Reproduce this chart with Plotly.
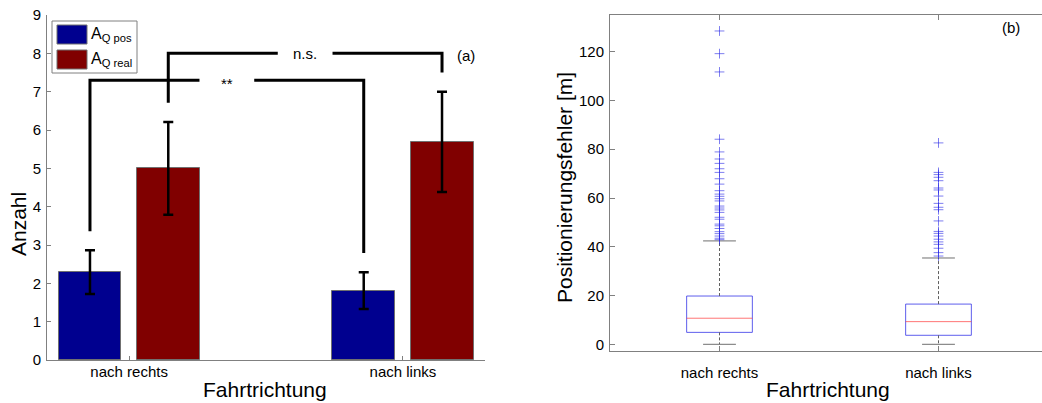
import plotly.graph_objects as go

# ---------------- data: panel (a) ----------------
categories = ["nach rechts", "nach links"]
a_q_pos = [2.29, 1.81]
a_q_pos_err = [0.57, 0.48]
a_q_real = [5.0, 5.69]
a_q_real_err = [1.21, 1.31]

sig_labels = ["**", "n.s."]
sig_levels = [7.3, 8.0]

# ---------------- data: panel (b) ----------------
box_q1 = [4.9, 3.7]
box_median = [10.7, 9.3]
box_q3 = [19.8, 16.5]
whisker_low = [0.0, 0.0]
whisker_high = [42.4, 35.4]
outliers_rechts = [128.5, 119.2, 111.7, 84.1, 78.9, 76.0, 74.2, 72.0, 70.5, 67.9,
                   65.7, 63.0, 61.6, 60.7, 59.7, 58.8, 56.7, 55.9, 55.1, 54.1,
                   52.1, 51.3, 49.3, 48.6, 47.5, 46.2, 45.4, 44.4, 43.5, 42.9]
outliers_links = [82.6, 70.5, 69.6, 68.5, 67.1, 64.1, 63.3, 60.8, 57.8, 56.2,
                  55.2, 50.6, 46.3, 45.5, 44.4, 43.1, 42.0, 41.0, 39.4, 37.6, 36.2]

FONT = "Liberation Sans, Arial, sans-serif"
BLUE = "#00008f"
RED = "#800000"
AXIS_GRAY = "#808080"

W, H = 1042, 403
OFFSET = 0.143
BAR_W = 0.23
pos = [1, 2]


def px(x):
    return x / W


def py(y):
    return 1 - y / H


fig = go.Figure()

# ---- bars with error bars ----
fig.add_trace(go.Bar(
    x=[p - OFFSET for p in pos], y=a_q_pos, width=BAR_W,
    marker=dict(color=BLUE, line=dict(color="#707070", width=1)),
    error_y=dict(type="data", array=a_q_pos_err, color="black", thickness=2.5, width=5),
    xaxis="x", yaxis="y", showlegend=False,
))
fig.add_trace(go.Bar(
    x=[p + OFFSET for p in pos], y=a_q_real, width=BAR_W,
    marker=dict(color=RED, line=dict(color="#707070", width=1)),
    error_y=dict(type="data", array=a_q_real_err, color="black", thickness=2.5, width=5),
    xaxis="x", yaxis="y", showlegend=False,
))

# ---- significance brackets ----
pos_tops = [v + e + 0.5 for v, e in zip(a_q_pos, a_q_pos_err)]
real_tops = [v + e + 0.5 for v, e in zip(a_q_real, a_q_real_err)]
brackets = [
    (pos[0] - OFFSET, pos[1] - OFFSET, pos_tops[0], pos_tops[1], sig_levels[0], sig_labels[0]),
    (pos[0] + OFFSET, pos[1] + OFFSET, real_tops[0], real_tops[1], sig_levels[1], sig_labels[1]),
]
GAP = 0.1
for x0, x1, b0, b1, lev, lab in brackets:
    mid = (x0 + x1) / 2
    fig.add_trace(go.Scatter(
        x=[x0, x0, mid - GAP, None, mid + GAP, x1, x1],
        y=[b0, lev, lev, None, lev, lev, b1],
        mode="lines", line=dict(color="black", width=3),
        xaxis="x", yaxis="y", showlegend=False, hoverinfo="skip",
    ))
    fig.add_annotation(x=mid, y=lev, xref="x", yref="y", text=lab, showarrow=False,
                       font=dict(family=FONT, size=15, color="black"),
                       yanchor="middle", yshift=-3 if lab == "**" else 0)

# ---- box plots ----
HALF_BOX = 0.15
HALF_CAP = 0.075
for i, p in enumerate(pos):
    # box outline
    fig.add_trace(go.Scatter(
        x=[p - HALF_BOX, p + HALF_BOX, p + HALF_BOX, p - HALF_BOX, p - HALF_BOX],
        y=[box_q1[i], box_q1[i], box_q3[i], box_q3[i], box_q1[i]],
        mode="lines", line=dict(color="rgba(40,40,230,0.75)", width=1),
        xaxis="x2", yaxis="y2", showlegend=False, hoverinfo="skip",
    ))
    # median
    fig.add_trace(go.Scatter(
        x=[p - HALF_BOX, p + HALF_BOX], y=[box_median[i], box_median[i]],
        mode="lines", line=dict(color="rgba(255,60,60,0.7)", width=1),
        xaxis="x2", yaxis="y2", showlegend=False, hoverinfo="skip",
    ))
    # whiskers (dashed)
    fig.add_trace(go.Scatter(
        x=[p, p, None, p, p],
        y=[box_q3[i], whisker_high[i], None, box_q1[i], whisker_low[i]],
        mode="lines", line=dict(color="#606060", width=1, dash="3px,2px"),
        xaxis="x2", yaxis="y2", showlegend=False, hoverinfo="skip",
    ))
    # whisker caps
    fig.add_trace(go.Scatter(
        x=[p - HALF_CAP, p + HALF_CAP, None, p - HALF_CAP, p + HALF_CAP],
        y=[whisker_high[i], whisker_high[i], None, whisker_low[i], whisker_low[i]],
        mode="lines", line=dict(color="#707070", width=1),
        xaxis="x2", yaxis="y2", showlegend=False, hoverinfo="skip",
    ))

OUTLIER_COLOR = "rgba(40,40,230,0.6)"
for p, outs in zip(pos, [outliers_rechts, outliers_links]):
    fig.add_trace(go.Scatter(
        x=[p] * len(outs), y=outs, mode="markers",
        marker=dict(symbol="cross-thin-open", size=7, color=OUTLIER_COLOR,
                    line=dict(color=OUTLIER_COLOR, width=1)),
        xaxis="x2", yaxis="y2", showlegend=False, hoverinfo="skip",
    ))

# ---- axes ----
tick_font = dict(family=FONT, size=15, color="black")
common = dict(showgrid=False, zeroline=False, tickfont=tick_font, automargin=False,
              showline=True, linecolor=AXIS_GRAY, linewidth=1, tickcolor=AXIS_GRAY,
              ticks="inside")
fig.update_layout(
    width=W, height=H,
    margin=dict(l=0, r=0, t=0, b=0, autoexpand=False),
    paper_bgcolor="white", plot_bgcolor="white",
    font=dict(family=FONT, color="black"),
    xaxis=dict(domain=[px(47), px(485)], range=[0.7, 2.3], anchor="y",
               tickvals=pos, ticktext=categories, ticklen=4,
               ticklabelstandoff=-2, **common),
    yaxis=dict(domain=[py(360), py(15)], range=[0, 9], dtick=1, anchor="x",
               ticklen=4, ticklabelstandoff=2, **common),
    xaxis2=dict(domain=[px(610), 1.0], range=[0.5, 0.5 + (W - 610) / 219],
                tickvals=pos, ticktext=categories, ticklen=5,
                mirror="ticks", anchor="y2", ticklabelstandoff=8, **common),
    yaxis2=dict(domain=[py(350.7), py(15)], range=[-2.62, 135.05],
                tickvals=[0, 20, 40, 60, 80, 100, 120], anchor="x2",
                ticklen=5, ticklabelstandoff=2, **common),
    bargap=0,
)

# ---- axis titles and panel labels ----
title_font = dict(family=FONT, size=21, color="black")
fig.add_annotation(x=px(265), y=py(389), xref="paper", yref="paper", text="Fahrtrichtung",
                   showarrow=False, font=title_font, xanchor="center", yanchor="middle")
fig.add_annotation(x=px(828), y=py(389), xref="paper", yref="paper", text="Fahrtrichtung",
                   showarrow=False, font=title_font, xanchor="center", yanchor="middle")
fig.add_annotation(x=px(18), y=py(224), xref="paper", yref="paper", text="Anzahl",
                   showarrow=False, font=title_font, textangle=-90,
                   xanchor="center", yanchor="middle")
fig.add_annotation(x=px(565), y=py(188), xref="paper", yref="paper",
                   text="Positionierungsfehler [m]", showarrow=False, font=title_font,
                   textangle=-90, xanchor="center", yanchor="middle")
fig.add_annotation(x=px(466), y=py(55), xref="paper", yref="paper", text="(a)",
                   showarrow=False, font=dict(family=FONT, size=15, color="black"),
                   xanchor="center", yanchor="middle")
fig.add_annotation(x=px(1011), y=py(28), xref="paper", yref="paper", text="(b)",
                   showarrow=False, font=dict(family=FONT, size=15, color="black"),
                   xanchor="center", yanchor="middle")

# ---- legend box for panel (a) ----
fig.add_shape(type="rect", xref="paper", yref="paper",
              x0=px(52), x1=px(137), y0=py(73), y1=py(21),
              line=dict(color=AXIS_GRAY, width=1), fillcolor="white", layer="above")
legend_items = [("A<sub>Q pos</sub>", BLUE, 25, 44), ("A<sub>Q real</sub>", RED, 50, 69)]
for text, color, top, bottom in legend_items:
    fig.add_shape(type="rect", xref="paper", yref="paper",
                  x0=px(57), x1=px(87), y0=py(bottom), y1=py(top),
                  line=dict(color="#707070", width=1), fillcolor=color, layer="above")
    fig.add_annotation(x=px(89), y=py((top + bottom) / 2), xref="paper", yref="paper",
                       text=text, showarrow=False, font=dict(family=FONT, size=16, color="black"),
                       xanchor="left", yanchor="middle")

fig.write_html("out.html")
